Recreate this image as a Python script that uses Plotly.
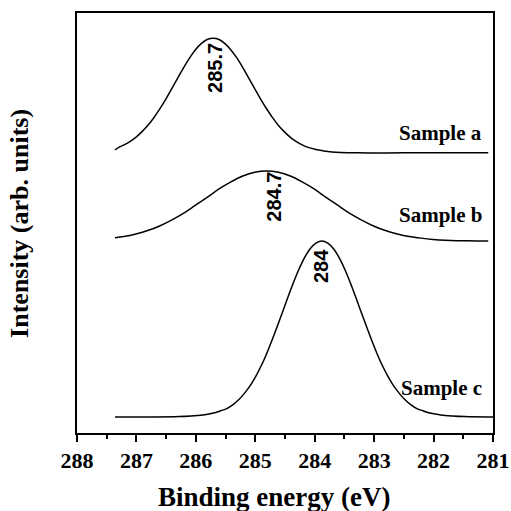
import plotly.graph_objects as go

# Binding energy (eV) and intensity (arb. units)
a_x = [287.36, 287.31, 287.21, 287.11, 287.01, 286.91, 286.81, 286.71, 286.61, 286.51, 286.41, 286.31, 286.21, 286.11, 286.01, 285.91, 285.81,
       285.71, 285.61, 285.51, 285.41, 285.31, 285.21, 285.11, 285.01, 284.91, 284.81, 284.71, 284.61, 284.51, 284.41, 284.31, 284.21, 284.11,
       284.01, 283.91, 283.81, 283.71, 283.31, 282.50, 281.08]
a_y = [67.4, 67.9, 68.6, 69.4, 70.4, 71.7, 73.2, 75.0, 77.1, 79.4, 81.9, 84.4, 86.9, 89.2, 91.2, 92.7, 93.7,
       94.0, 93.7, 92.7, 91.2, 89.3, 87.0, 84.5, 82.0, 79.5, 77.2, 75.1, 73.2, 71.7, 70.4, 69.4, 68.6, 68.0,
       67.6, 67.3, 67.1, 66.9, 66.7, 66.7, 66.7]

b_x = [287.36, 287.21, 287.01, 286.81, 286.61, 286.41, 286.21, 286.01, 285.81, 285.61, 285.41, 285.21, 285.01,
       284.81, 284.61, 284.41, 284.21, 284.01, 283.81, 283.61, 283.41, 283.21, 283.01, 282.81, 282.61, 282.41,
       282.21, 282.01, 281.81, 281.61, 281.41, 281.08]
b_y = [46.5, 46.8, 47.4, 48.2, 49.3, 50.7, 52.3, 54.2, 56.1, 58.1, 59.8, 61.2, 62.1,
       62.4, 62.1, 61.2, 59.8, 58.1, 56.1, 54.2, 52.3, 50.7, 49.3, 48.2, 47.4, 46.8,
       46.4, 46.1, 45.9, 45.8, 45.8, 45.7]

c_x = [287.36, 286.68, 286.28, 286.08, 285.88, 285.78, 285.68, 285.58, 285.48, 285.38, 285.28, 285.18, 285.08, 284.98, 284.88,
       284.78, 284.68, 284.58, 284.48, 284.38, 284.28, 284.18, 284.08, 283.98, 283.88, 283.78, 283.68, 283.58, 283.48, 283.38,
       283.28, 283.18, 283.08, 282.98, 282.88, 282.78, 282.68, 282.58, 282.48, 282.38, 282.28, 282.18, 282.08, 281.88, 281.68,
       281.48, 281.08, 281.00]
c_y = [3.8, 3.8, 3.9, 4.05, 4.3, 4.5, 4.8, 5.3, 5.8, 6.7, 7.9, 9.5, 11.4, 13.8, 16.6,
       19.9, 23.5, 27.3, 31.2, 35.0, 38.5, 41.5, 43.8, 45.2, 45.7, 45.2, 43.8, 41.5, 38.5, 35.0,
       31.2, 27.3, 23.5, 19.9, 16.6, 13.8, 11.4, 9.5, 7.9, 6.7, 5.8, 5.3, 4.8, 4.3, 4.05,
       3.9, 3.8, 3.8]

series_names = ["Sample a", "Sample b", "Sample c"]
name_x = [281.15, 281.15, 281.15]
name_y = [71.4, 51.9, 10.7]

peak_labels = ["285.7", "284.7", "284"]
peak_x = [285.68, 284.69, 283.89]
peak_y = [86.9, 56.2, 39.8]

x_ticks = [288, 287, 286, 285, 284, 283, 282, 281]

fig = go.Figure()
for xs, ys in [(a_x, a_y), (b_x, b_y), (c_x, c_y)]:
    fig.add_trace(go.Scatter(x=xs, y=ys, mode="lines",
                             line=dict(color="black", width=1.5, shape="spline", smoothing=1.0),
                             showlegend=False, hoverinfo="skip"))

for t, x, y in zip(series_names, name_x, name_y):
    fig.add_annotation(x=x, y=y, text="<b>" + t + "</b>", showarrow=False, xanchor="right", yanchor="middle",
                       font=dict(family="Liberation Serif", size=21, color="black"))

for t, x, y in zip(peak_labels, peak_x, peak_y):
    fig.add_annotation(x=x, y=y, text="<b>" + t + "</b>", showarrow=False, textangle=-90,
                       xanchor="center", yanchor="middle",
                       font=dict(family="Liberation Sans", size=20, color="black"))

fig.add_annotation(xref="paper", yref="paper", x=0.475, y=-0.111, xanchor="center", yanchor="top",
                   text="<b>Binding energy (eV)</b>", showarrow=False,
                   font=dict(family="Liberation Serif", size=27, color="black"))
fig.add_annotation(xref="paper", yref="paper", x=-0.10, y=0.5, xanchor="right", yanchor="middle",
                   text="<b>Intensity (arb. units)</b>", showarrow=False, textangle=-90,
                   font=dict(family="Liberation Serif", size=26, color="black"))

fig.update_layout(
    width=511, height=511,
    margin=dict(l=77, r=18, t=13, b=78),
    plot_bgcolor="white", paper_bgcolor="white",
    xaxis=dict(range=[288, 281], tickvals=x_ticks, ticktext=["<b>%d</b>" % v for v in x_ticks],
               automargin=False,
               showgrid=False, zeroline=False, showline=True, linecolor="black", linewidth=1.5,
               mirror=True, ticks="outside", ticklen=7, tickwidth=1.5, tickcolor="black",
               minor=dict(dtick=0.5, ticks="outside", ticklen=4, tickwidth=1.5, tickcolor="black"),
               tickfont=dict(family="Liberation Serif", size=22, color="black")),
    yaxis=dict(range=[0, 100], showticklabels=False, ticks="", showgrid=False, zeroline=False,
               automargin=False,
               showline=True, linecolor="black", linewidth=1.5, mirror=True),
)

fig.write_html("out.html", config={"displayModeBar": False},
               post_script="document.body.style.margin='0';document.body.style.overflow='hidden';")
